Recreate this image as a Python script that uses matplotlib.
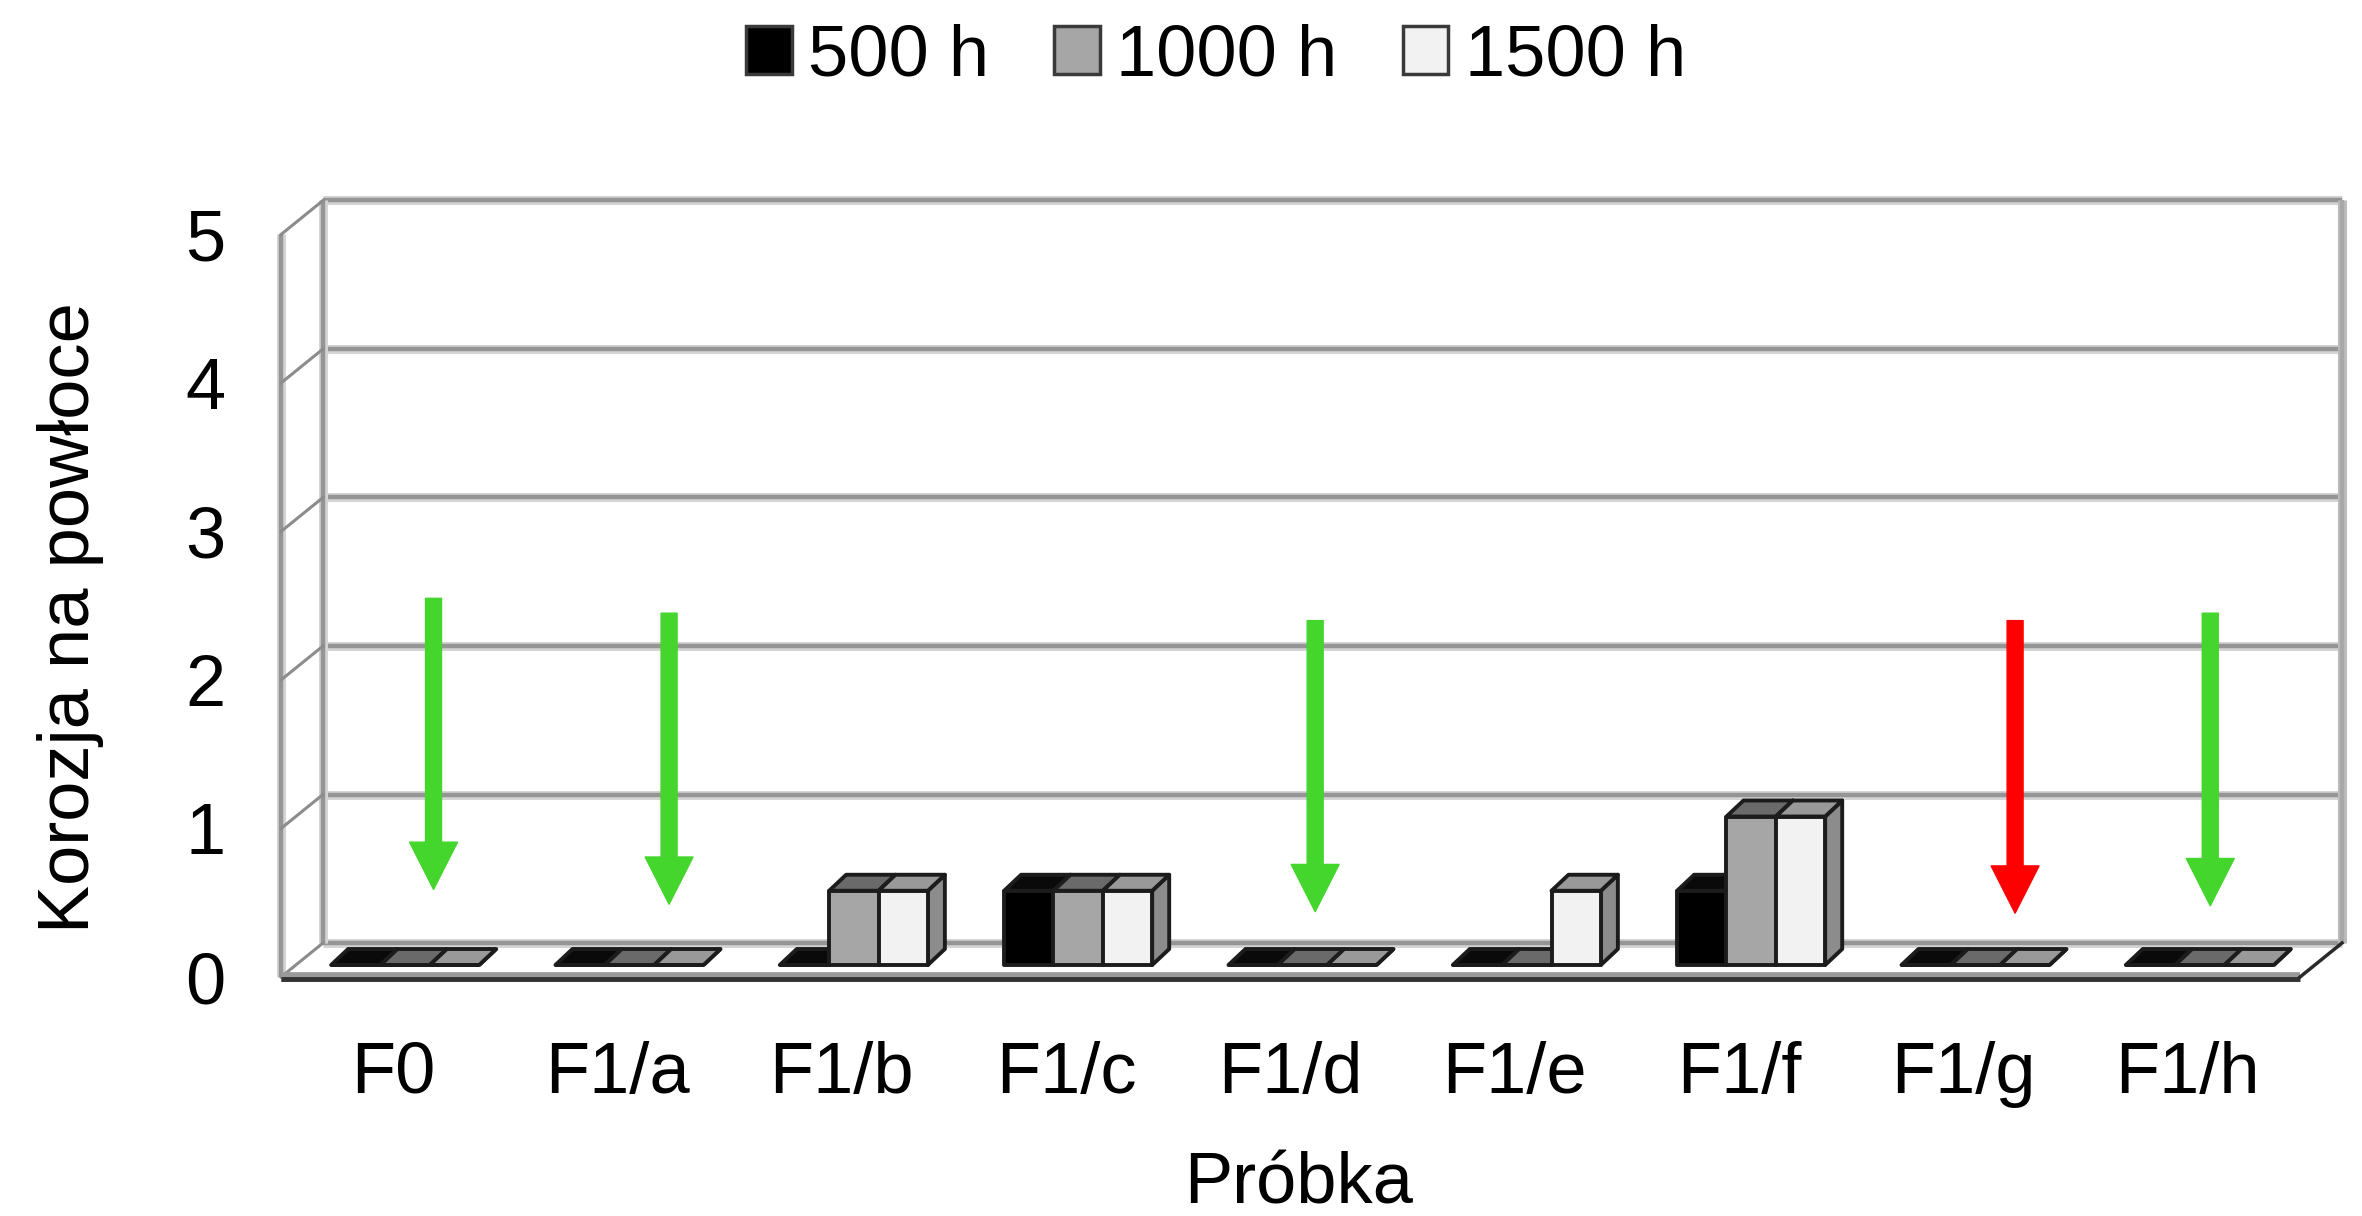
import matplotlib
matplotlib.use('Agg')
import matplotlib.pyplot as plt
from matplotlib.patches import Polygon, Patch

plt.rcParams['font.family'] = ['Liberation Sans', 'DejaVu Sans']

categories = ['F0', 'F1/a', 'F1/b', 'F1/c', 'F1/d', 'F1/e', 'F1/f', 'F1/g', 'F1/h']
series_names = ['500 h', '1000 h', '1500 h']
h500 = [0, 0, 0, 0.5, 0, 0, 0.5, 0, 0]
h1000 = [0, 0, 0.5, 0.5, 0, 0, 1, 0, 0]
h1500 = [0, 0, 0.5, 0.5, 0, 0.5, 1, 0, 0]

# arrows drawn over the chart: category, offset in category, start and end value
arrow_cat = [0, 1, 4, 7, 8]
arrow_shift = [0.18, 0.23, 0.11, 0.23, 0.10]
arrow_top = [2.55, 2.45, 2.40, 2.40, 2.45]
arrow_tip = [0.59, 0.49, 0.44, 0.43, 0.48]
arrow_colors = ['#44d62c', '#44d62c', '#44d62c', '#ff0000', '#44d62c']

W, H, DPI = 2362, 1216, 100
fig = plt.figure(figsize=(W / DPI, H / DPI), dpi=DPI)
ax_box = [281 / W, (H - 977) / H, 2019 / W, 742.5 / H]
ax = fig.add_axes(ax_box)
ax.set_xlim(-0.5, len(categories) - 0.5)
ax.set_ylim(0, 5)
ax.set_facecolor('none')
for s in ax.spines.values():
    s.set_visible(False)

# pixel -> data units (axes are linear)
sx = len(categories) / (W * ax_box[2])
sy = 5 / (H * ax_box[3])
wall = (42 * sx, 34 * sy)      # depth of the back wall
bar_off = (12 * sx, 12 * sy)   # where the bar fronts sit
bar_d = (17 * sx, 16 * sy)     # depth of one bar

FS = 52


def wall_line(xs, ys, dark='#959595', light='#d4d4d4', z=1):
    ax.plot(xs, ys, color=light, lw=6.5, solid_capstyle='butt', clip_on=False, zorder=z)
    ax.plot(xs, ys, color=dark, lw=3.2, solid_capstyle='butt', clip_on=False, zorder=z)


x_lo, x_hi = -0.5, len(categories) - 0.5
wx, wy = wall

# back wall gridlines
for y in range(6):
    wall_line([x_lo + wx, x_hi + wx], [y + wy, y + wy])
# back wall verticals
wall_line([x_lo + wx, x_lo + wx], [wy, 5 + wy])
wall_line([x_hi + wx, x_hi + wx], [wy, 5 + wy], dark='#a8a8a8', light='#bcbcbc')
# left side wall: front edge and diagonals
wall_line([x_lo, x_lo], [0, 5])
for y in range(6):
    ax.plot([x_lo, x_lo + wx], [y, y + wy], color='#8c8c8c', lw=2.2, clip_on=False, zorder=1)

# floor
ax.plot([x_lo, x_hi], [0, 0], color='#9a9a9a', lw=7, solid_capstyle='butt', clip_on=False, zorder=4)
ax.plot([x_lo, x_hi], [-0.012, -0.012], color='#333333', lw=3.5, solid_capstyle='butt',
        clip_on=False, zorder=4)
ax.plot([x_hi, x_hi + wx], [0, wy], color='#2a2a2a', lw=2.5, clip_on=False, zorder=4)

fronts = ['#000000', '#a6a6a6', '#f2f2f2']
tops = ['#0a0a0a', '#6a6a6a', '#999999']
sides = ['#000000', '#787878', '#8c8c8c']


def box(x0, w, v, front, top, side):
    fx, fy = bar_off
    dx, dy = bar_d
    xl, xr = x0 + fx, x0 + w + fx
    yb, yt = fy, v + fy
    kw = dict(edgecolor='#1c1c1c', linewidth=2.8, joinstyle='round', clip_on=False, zorder=3)
    ax.add_patch(Polygon([(xr, yb), (xr + dx, yb + dy), (xr + dx, yt + dy), (xr, yt)],
                         facecolor=side, **kw))
    ax.add_patch(Polygon([(xl, yt), (xl + dx, yt + dy), (xr + dx, yt + dy), (xr, yt)],
                         facecolor=top, **kw))
    ax.add_patch(Polygon([(xl, yb), (xr, yb), (xr, yt), (xl, yt)], facecolor=front, **kw))


bw = 0.22
for i in range(len(categories)):
    for k, vals in enumerate([h500, h1000, h1500]):
        box(i - 0.33 + k * bw, bw, vals[i], fronts[k], tops[k], sides[k])

for c, sh, y0, y1, col in zip(arrow_cat, arrow_shift, arrow_top, arrow_tip, arrow_colors):
    ax.annotate('', xy=(c + sh, y1), xytext=(c + sh, y0),
                arrowprops=dict(width=11.5, headwidth=34.5, headlength=34, color=col,
                                shrink=0),
                zorder=6)

ax.set_yticks(range(6))
ax.set_xticks(range(len(categories)), categories)
ax.tick_params(axis='y', length=0, pad=40, labelsize=FS)
ax.tick_params(axis='x', length=0, pad=46, labelsize=FS)

fig.text(71 / W, 1 - 618 / H, 'Korozja na powłoce', rotation=90, ha='center', va='center',
         fontsize=FS)
fig.text(1299 / W, 1 - 1203 / H, 'Próbka', ha='center', va='baseline', fontsize=FS)

handles = [Patch(facecolor=fronts[k], edgecolor='#3a3a3a', linewidth=2.5) for k in range(3)]
fig.legend(handles, series_names, loc='center', bbox_to_anchor=(1216 / W, 1 - 57 / H),
           ncol=3, frameon=False, fontsize=FS, handlelength=0.63, handleheight=0.66,
           handletextpad=0.23, columnspacing=0.9, borderaxespad=0, borderpad=0)

fig.savefig('out.png', dpi=DPI)
